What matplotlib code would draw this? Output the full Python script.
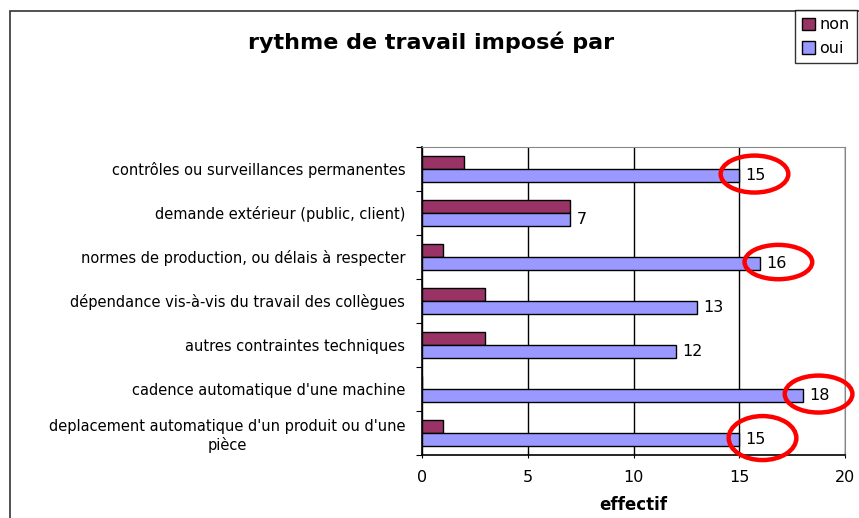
import matplotlib
matplotlib.use("Agg")
import matplotlib.pyplot as plt
from matplotlib.patches import Ellipse, Rectangle
import numpy as np

# categories from top to bottom
categories = [
    "contrôles ou surveillances permanentes",
    "demande extérieur (public, client)",
    "normes de production, ou délais à respecter",
    "dépendance vis-à-vis du travail des collègues",
    "autres contraintes techniques",
    "cadence automatique d'une machine",
    "deplacement automatique d'un produit ou d'une\npièce",
]
non_vals = [2, 7, 1, 3, 3, 0, 1]
oui_vals = [15, 7, 16, 13, 12, 18, 15]
x_ticks = [0, 5, 10, 15, 20]
# categories whose "oui" label is circled in red (hand drawn, so offsets differ)
circled = [0, 2, 5, 6]
circle_dx = [0.72, 0.85, 0.75, 1.1]
circle_h = [0.84, 0.78, 0.84, 1.0]

fig = plt.figure(figsize=(8.59, 5.18), dpi=100)
# outer chart border
fig.patches.append(Rectangle((10 / 859, -0.05), 1.2, 1 - 11 / 518 + 0.05,
                             transform=fig.transFigure, fill=False,
                             edgecolor="#333333", linewidth=1.2))
ax = fig.add_axes([422 / 859, 1 - 455 / 518, 423 / 859, 308 / 518])

n = len(categories)
y = np.arange(n)[::-1].astype(float)
h = 0.29
ax.barh(y + h / 2, non_vals, height=h, color="#993366", edgecolor="black",
        linewidth=1, label="non", zorder=3)
ax.barh(y - h / 2, oui_vals, height=h, color="#9999FF", edgecolor="black",
        linewidth=1, label="oui", zorder=3)

for yy, v in zip(y, oui_vals):
    ax.text(v + 0.3, yy - h / 2, str(v), va="center", ha="left",
            fontsize=11.5, zorder=5)

for i, dx, eh in zip(circled, circle_dx, circle_h):
    ax.add_patch(Ellipse((oui_vals[i] + dx, y[i] - h / 2 + 0.03), 3.2, eh,
                         fill=False, edgecolor="#ff0000", linewidth=3.2,
                         zorder=6, clip_on=False))

ax.set_xlim(0, 20)
ax.set_ylim(-0.5, n - 0.5)
ax.set_xticks(x_ticks)
ax.set_xticklabels([str(t) for t in x_ticks], fontsize=11.5)
ax.set_yticks(np.arange(n + 1) - 0.5, minor=False)
ax.set_yticklabels([])
ax.set_yticks(y, minor=True)
ax.set_yticklabels(categories, minor=True, fontsize=10.5,
                   multialignment="center")
ax.tick_params(axis="y", which="minor", length=0, pad=12)
ax.tick_params(axis="y", which="major", length=4, direction="out")
ax.tick_params(axis="x", length=5, direction="inout", pad=8)
ax.grid(axis="x", color="black", linewidth=1, zorder=0)
for s in ["top", "right"]:
    ax.spines[s].set_color("#888888")
ax.spines["left"].set_linewidth(1.2)
ax.spines["bottom"].set_linewidth(1.2)

ax.set_xlabel("effectif", fontsize=12, fontweight="bold", labelpad=8)
fig.text(0.502, 1 - 42 / 518, "rythme de travail imposé par", ha="center",
         va="center", fontsize=16, fontweight="bold")

leg = fig.legend(loc="upper right", bbox_to_anchor=(857 / 859, 1 - 10 / 518),
                 fontsize=11.5, frameon=True, fancybox=False, handlelength=0.8,
                 handleheight=0.8, handletextpad=0.3, borderpad=0.45,
                 labelspacing=0.55, borderaxespad=0)
leg.get_frame().set_edgecolor("black")
leg.get_frame().set_linewidth(1)

fig.savefig("out.png", dpi=100)
